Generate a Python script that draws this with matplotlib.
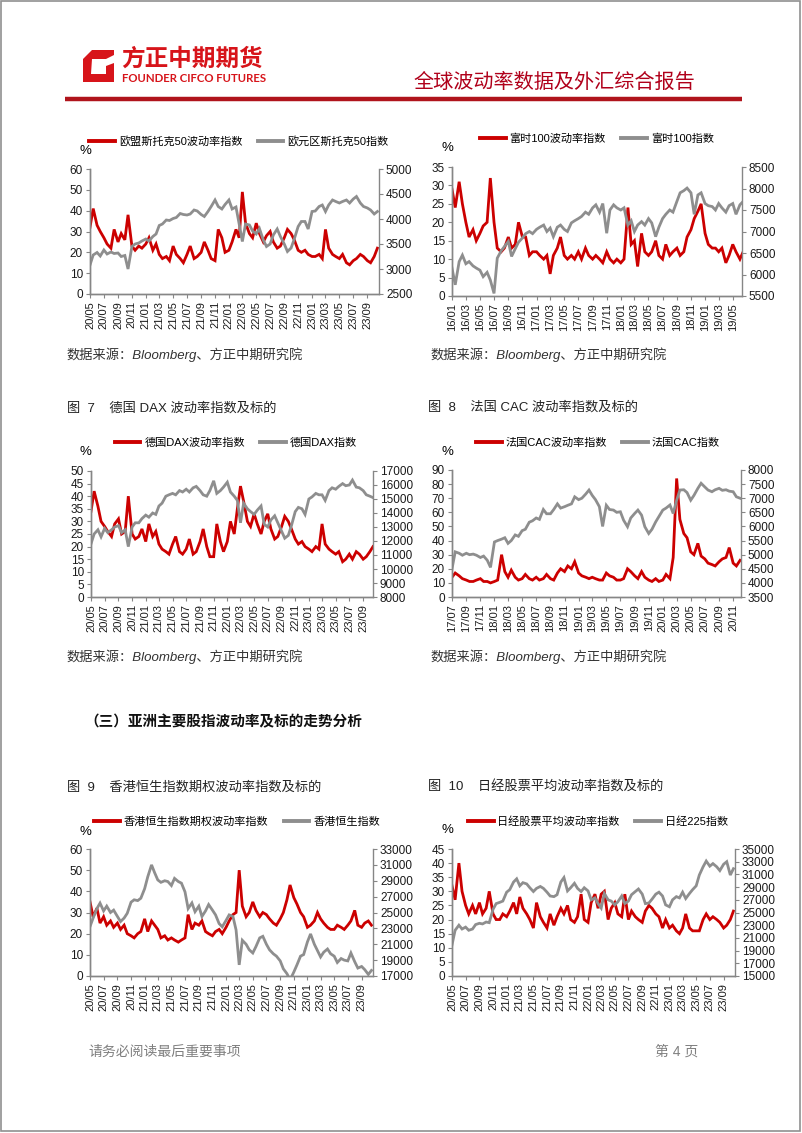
import numpy as np
import pandas as pd
import matplotlib
matplotlib.use('Agg')
import matplotlib.pyplot as plt
from matplotlib.lines import Line2D
from matplotlib.patches import Polygon, Rectangle

plt.rcParams['font.family'] = ['Liberation Sans', 'Noto Sans CJK SC', 'DejaVu Sans']

W, H = 802, 1133
RED = '#CC0000'
GRAY = '#8E8E8E'
AXC = '#868686'

# 半月一个点（每月1日、15日）
# 图5 欧元区
stoxx_vol = [32, 41, 33, 30, 27, 24, 22, 31, 25, 29, 26, 38, 23, 21, 23, 22,
             24, 27, 21, 24, 19, 17, 18, 16, 23, 19, 17, 15, 19, 23, 17, 18,
             20, 25, 21, 17, 16, 31, 27, 20, 21, 25, 31, 27, 49, 34, 29, 27,
             34, 29, 25, 28, 30, 25, 22, 23, 27, 31, 29, 26, 21, 20, 21, 19,
             18, 18, 19, 17, 31, 22, 19, 18, 17, 19, 15, 14, 16, 17, 19, 18,
             16, 15, 18, 22]
stoxx_idx = [3080, 3280, 3330, 3260, 3380, 3300, 3340, 3310, 3320, 3250, 3270, 3000,
             3450, 3500, 3520, 3560, 3600, 3560, 3650, 3700, 3870, 3900, 3980, 3970,
             4010, 4030, 4110, 4090, 4080, 4100, 4180, 4160, 4090, 4050, 4150, 4250,
             4380, 4250, 4200, 4290, 4380, 4200, 4240, 3900, 3550, 3900, 3880, 3760,
             3700, 3810, 3580, 3450, 3500, 3680, 3800, 3650, 3500, 3350, 3420, 3600,
             3850, 3950, 3950, 3800, 4150, 4160, 4250, 4280, 4150, 4280, 4380, 4350,
             4320, 4350, 4380, 4320, 4400, 4450, 4320, 4250, 4220, 4180, 4100, 4150]

# 图6 英国
ftse_vol = [29, 24, 31, 25, 20, 16, 18, 15, 17, 19, 20, 32, 20, 13, 12, 13,
            16, 13, 14, 20, 16, 16, 11, 12, 12, 11, 10, 11, 6, 11, 13, 16,
            11, 10, 11, 10, 12, 10, 13, 11, 10, 11, 10, 9, 12, 10, 9, 10,
            9, 10, 24, 14, 15, 8, 17, 12, 11, 12, 15, 11, 10, 14, 11, 12,
            13, 11, 12, 16, 18, 21, 23, 25, 17, 14, 13, 13, 12, 13, 9, 11,
            14, 12, 10, 12]
ftse_idx = [6150, 5760, 6300, 6450, 6250, 6300, 6200, 6150, 6100, 5950, 6050, 5870,
            5560, 6380, 6550, 6650, 6770, 6420, 6600, 6750, 6850, 6950, 7000, 6950,
            7050, 7100, 7150, 7000, 7080, 6880, 7100, 7150, 7050, 7000, 7200, 7250,
            7300, 7350, 7450, 7400, 7550, 7620, 7450, 7650, 6960, 7500, 7620, 7550,
            7500, 7550, 7150, 7250, 7000, 7150, 7230, 7150, 7300, 7200, 6880, 7100,
            7300, 7400, 7500, 7450, 7700, 7900, 7950, 8010, 7900, 7400, 7850, 7900,
            7650, 7600, 7580, 7500, 7650, 7550, 7450, 7600, 7650, 7400, 7620, 7700]

# 图7 德国
dax_vol = [34, 42, 36, 30, 28, 26, 24, 29, 31, 25, 26, 40, 25, 23, 24, 27,
           22, 29, 24, 26, 21, 19, 18, 17, 21, 24, 18, 17, 19, 23, 17, 18,
           22, 27, 20, 16, 16, 29, 22, 18, 22, 30, 25, 35, 44, 38, 30, 28,
           33, 29, 25, 30, 33, 27, 23, 24, 28, 32, 30, 27, 23, 21, 22, 20,
           19, 18, 20, 19, 29, 21, 19, 18, 17, 18, 14, 15, 17, 15, 18, 17,
           15, 16, 18, 20]
dax_idx = [11800, 12500, 12800, 12300, 12900, 12600, 12800, 13000, 13100, 12600, 12800, 11600,
           13000, 13300, 13300, 13600, 13850, 13700, 14000, 13900, 14500, 14700, 15200, 15300,
           15400, 15300, 15600, 15500, 15700, 15500, 15800, 15900, 15600, 15300, 15200, 15600,
           16300, 15400, 15600, 15850, 16200, 15500, 15200, 14900, 13300, 14700, 14300, 14100,
           13900, 14200, 14500, 13200, 13000, 13500, 13800, 13300, 12700, 12200, 12400, 13100,
           14100, 14400, 14300, 13900, 15000, 15150, 15400, 15300, 15300, 14900, 15600, 15800,
           15700, 15900, 16100, 15950, 16000, 16350, 15850, 15800, 15600, 15300, 15200, 15100]

# 图8 法国
cac_vol = [14, 17, 15, 13, 12, 11, 11, 12, 13, 11, 11, 10, 11, 12, 30, 18,
           14, 19, 14, 12, 13, 16, 13, 12, 14, 12, 13, 16, 13, 12, 17, 20,
           18, 22, 20, 25, 17, 15, 14, 13, 14, 13, 12, 12, 17, 15, 14, 12,
           12, 13, 20, 18, 15, 13, 18, 14, 12, 11, 13, 11, 12, 16, 13, 28,
           84, 55, 45, 42, 32, 30, 38, 29, 27, 24, 23, 22, 25, 27, 28, 35,
           24, 22, 26]
cac_idx = [4500, 5100, 5050, 4980, 5050, 5000, 5020, 4980, 4900, 4950, 4800, 4550,
           5450, 5500, 5550, 5600, 5400, 5500, 5700, 5650, 5850, 5900, 6150, 6200,
           6300, 6250, 6600, 6450, 6450, 6600, 6800, 6650, 6700, 6750, 6800, 7050,
           6950, 7000, 7150, 7290, 7100, 6950, 6700, 6000, 6750, 6600, 6580, 6500,
           6520, 6220, 5990, 6300, 6460, 6580, 6400, 5990, 5750, 5900, 6160, 6350,
           6580, 6650, 6760, 6460, 6930, 7290, 7300, 7200, 6930, 7100, 7350, 7530,
           7400, 7290, 7230, 7300, 7350, 7280, 7300, 7250, 7230, 7050, 7000]

# 图9 香港
hsi_vol = [35, 28, 32, 25, 28, 24, 26, 23, 25, 22, 24, 20, 19, 18, 20, 21,
           27, 21, 26, 24, 22, 18, 19, 17, 18, 17, 16, 17, 18, 29, 22, 25,
           24, 26, 21, 20, 19, 21, 22, 20, 23, 26, 29, 30, 50, 33, 28, 30,
           35, 31, 28, 30, 29, 27, 25, 24, 27, 30, 36, 43, 37, 34, 30, 28,
           23, 24, 26, 30, 27, 25, 23, 22, 22, 24, 23, 22, 24, 26, 31, 24,
           23, 25, 26, 24]
hsi_idx = [23230, 24300, 25500, 26180, 25200, 25800, 25000, 25300, 24500, 23860, 24300, 24900,
           26300, 26600, 26500, 26800, 28000, 29500, 31000, 30000, 29100, 28800, 29000, 28900,
           28400, 29300, 28900, 28700, 27600, 25500, 26200, 25100, 25800, 24500, 25200, 26000,
           25300, 24700, 23600, 23200, 24000, 24700, 24500, 22800, 18400, 21500, 21000, 20300,
           19900, 20700, 21800, 22000, 21000, 20300, 19800, 19500, 18900, 17900, 17300, 16500,
           17500, 18400, 19500, 19700, 21300, 22300, 21000, 20200, 19400, 20000, 20400, 19800,
           19500, 18700, 19200, 19000, 18900, 19900, 18800, 18000, 18200, 17800, 17200, 17700]

# 图10 日本
nk_vol = [32, 27, 40, 30, 25, 22, 25, 22, 26, 22, 24, 30, 22, 20, 20, 22,
          21, 23, 26, 22, 28, 24, 22, 20, 17, 26, 21, 19, 17, 22, 18, 21,
          24, 22, 25, 20, 19, 21, 29, 20, 19, 26, 29, 24, 29, 30, 20, 24,
          26, 22, 21, 29, 20, 23, 21, 20, 19, 23, 25, 24, 22, 21, 17, 20,
          17, 18, 16, 15, 17, 22, 17, 16, 16, 16, 20, 22, 20, 21, 20, 19,
          17, 18, 20, 23]
nk_idx = [19900, 22200, 23000, 22400, 22700, 22200, 22400, 23100, 23300, 23200, 23500, 23400,
          25500, 26400, 26600, 26800, 28200, 28600, 29800, 30300, 29200, 29700, 29500, 28900,
          28300, 28800, 29100, 28800, 28200, 27600, 27500, 27800, 29800, 30500, 28400, 28900,
          29600, 28800, 28300, 28900, 28400, 27000, 27300, 26400, 25700, 28000, 27000, 26800,
          26200, 26700, 27600, 26400, 26800, 27800, 28300, 28700, 27900, 26400, 26500, 27100,
          27900, 28200, 27600, 26200, 25900, 27000, 27500, 27300, 28200, 27200, 28000, 28600,
          29200, 30900, 32200, 33100, 32300, 32700, 32200, 31600, 32600, 33000, 30900, 31900]

ticks_20 = ['20/05', '20/07', '20/09', '20/11', '21/01', '21/03', '21/05', '21/07', '21/09',
            '21/11', '22/01', '22/03', '22/05', '22/07', '22/09', '22/11', '23/01', '23/03',
            '23/05', '23/07', '23/09']
ticks_16 = ['16/01', '16/03', '16/05', '16/07', '16/09', '16/11', '17/01', '17/03', '17/05',
            '17/07', '17/09', '17/11', '18/01', '18/03', '18/05', '18/07', '18/09', '18/11',
            '19/01', '19/03', '19/05']
ticks_17 = ['17/07', '17/09', '17/11', '18/01', '18/03', '18/05', '18/07', '18/09', '18/11',
            '19/01', '19/03', '19/05', '19/07', '19/09', '19/11', '20/01', '20/03', '20/05',
            '20/07', '20/09', '20/11']

fig = plt.figure(figsize=(W / 100, H / 100), dpi=100)
fig.patch.set_facecolor('white')

# 整页背景层，像素坐标
bg = fig.add_axes([0, 0, 1, 1])
bg.set_xlim(0, W)
bg.set_ylim(H, 0)
bg.axis('off')


def box(x0, y0, x1, y1):
    return [x0 / W, 1 - y1 / H, (x1 - x0) / W, (y1 - y0) / H]


def panel(rect, start, xend, vol, idx, ylim, ystep, ylim2, ystep2, tick_labels,
          names, legend_xy, pct_xy):
    ax = fig.add_axes(box(*rect))
    d1 = pd.date_range(start, periods=len(vol), freq='SMS')
    d2 = pd.date_range(start, periods=len(idx), freq='SMS')
    ax.plot(d1, vol, color=RED, lw=2.0, solid_joinstyle='miter')
    ax2 = ax.twinx()
    ax2.plot(d2, idx, color=GRAY, lw=2.0, solid_joinstyle='miter')

    ax.set_xlim(pd.Timestamp(start), pd.Timestamp(xend))
    ax.set_ylim(*ylim)
    ax2.set_ylim(*ylim2)
    ax.set_yticks(np.arange(ylim[0], ylim[1] + 0.1, ystep))
    yt2 = np.arange(ylim2[0], ylim2[1] + 1, ystep2)
    ax2.set_yticks(yt2)
    ax2.set_yticklabels([str(int(v)) for v in yt2])

    tpos = pd.to_datetime(['20' + t for t in tick_labels], format='%Y/%m')
    ax.set_xticks(tpos)
    ax.set_xticklabels(tick_labels, rotation=90)

    for a in (ax, ax2):
        a.spines['top'].set_visible(False)
        for s in ('left', 'right', 'bottom'):
            a.spines[s].set_color(AXC)
            a.spines[s].set_linewidth(1.0)
        a.tick_params(axis='both', direction='out', length=3, color=AXC,
                      labelsize=8.5, pad=2, labelcolor='#1a1a1a')
    ax.spines['right'].set_visible(False)
    ax.tick_params(axis='x', labelsize=8)

    handles = [Line2D([], [], color=RED, lw=2.8), Line2D([], [], color=GRAY, lw=2.8)]
    fig.legend(handles, names, loc='center',
               bbox_to_anchor=(legend_xy[0] / W, 1 - legend_xy[1] / H),
               ncol=2, frameon=False, fontsize=8, handlelength=2.3,
               handletextpad=0.35, columnspacing=1.4)
    bg.text(pct_xy[0], pct_xy[1], '%', fontsize=9.5, ha='center', va='center')
    return ax, ax2


src = '数据来源：Bloomberg、方正中期研究院'

panel((90, 169, 379, 294), '2020-05-01', '2023-10-22', stoxx_vol, stoxx_idx,
      (0, 60), 10, (2500, 5000), 500, ticks_20,
      ['欧盟斯托克50波动率指数', '欧元区斯托克50指数'], (239, 141), (85, 151))
panel((452, 167, 742, 296), '2016-01-01', '2019-06-10', ftse_vol, ftse_idx,
      (0, 35), 5, (5500, 8500), 500, ticks_16,
      ['富时100波动率指数', '富时100指数'], (597, 139), (447, 148))
panel((91, 471, 373, 597), '2020-05-01', '2023-10-15', dax_vol, dax_idx,
      (0, 50), 5, (8000, 17000), 1000, ticks_20,
      ['德国DAX波动率指数', '德国DAX指数'], (236, 443), (85, 452))
panel((452, 470, 741, 597), '2017-07-01', '2020-12-05', cac_vol, cac_idx,
      (0, 90), 10, (3500, 8000), 500, ticks_17,
      ['法国CAC波动率指数', '法国CAC指数'], (598, 443), (447, 452))
panel((90, 849, 373, 976), '2020-05-01', '2023-10-22', hsi_vol, hsi_idx,
      (0, 60), 10, (17000, 33000), 2000, ticks_20,
      ['香港恒生指数期权波动率指数', '香港恒生指数'], (237, 822), (85, 832))
panel((452, 849, 735, 976), '2020-05-01', '2023-10-22', nk_vol, nk_idx,
      (0, 45), 5, (15000, 35000), 2000, ticks_20,
      ['日经股票平均波动率指数', '日经225指数'], (598, 822), (447, 830))

# 数据来源
for x, y in [(66, 355), (430, 355), (66, 657), (430, 657)]:
    bg.text(x, y, src, fontsize=9.5, style='italic', color='#333333', va='center')

# 图题
bg.text(67, 408, '图  7    德国 DAX 波动率指数及标的', fontsize=9.5, va='center', color='#222222')
bg.text(428, 407, '图  8    法国 CAC 波动率指数及标的', fontsize=9.5, va='center', color='#222222')
bg.text(67, 787, '图  9    香港恒生指数期权波动率指数及标的', fontsize=9.5, va='center', color='#222222')
bg.text(428, 787, '图  10    日经股票平均波动率指数及标的', fontsize=9.5, va='center', color='#222222')

bg.text(84, 722, '（三）亚洲主要股指波动率及标的走势分析', fontsize=10.5, fontweight='bold',
        va='center', color='#111111')

# 页眉
LOGO = '#D7141A'
bg.add_patch(Polygon([(92, 50), (114, 50), (114, 82), (83, 82), (83, 59)],
                     closed=True, facecolor=LOGO, edgecolor='none'))
bg.add_patch(Polygon([(92, 59), (106, 59), (106, 74), (91, 74)],
                     closed=True, facecolor='white', edgecolor='none'))
bg.add_patch(Polygon([(106, 59), (114, 55), (114, 63), (106, 66)],
                     closed=True, facecolor='white', edgecolor='none'))
bg.text(121, 59, '方正中期期货', fontsize=17, fontweight='bold', color=LOGO, va='center')
bg.text(122, 79, 'FOUNDER CIFCO FUTURES', fontsize=8.2, fontweight='bold', color=LOGO,
        va='center', family=['Lato', 'DejaVu Sans'])
bg.text(695, 82, '全球波动率数据及外汇综合报告', fontsize=14.5, color='#B0001A',
        ha='right', va='center')
bg.plot([65, 742], [99, 99], color='#B0141C', lw=3.2, solid_capstyle='butt')

# 页脚
bg.text(88, 1052, '请务必阅读最后重要事项', fontsize=10, color='#7F7F7F', va='center')
bg.text(655, 1052, '第 4 页', fontsize=10, color='#7F7F7F', va='center')

# 页面边框
bg.add_patch(Rectangle((1, 1), W - 3, H - 3, fill=False, edgecolor='#909090', lw=1.2))

fig.savefig('out.png', dpi=100)
